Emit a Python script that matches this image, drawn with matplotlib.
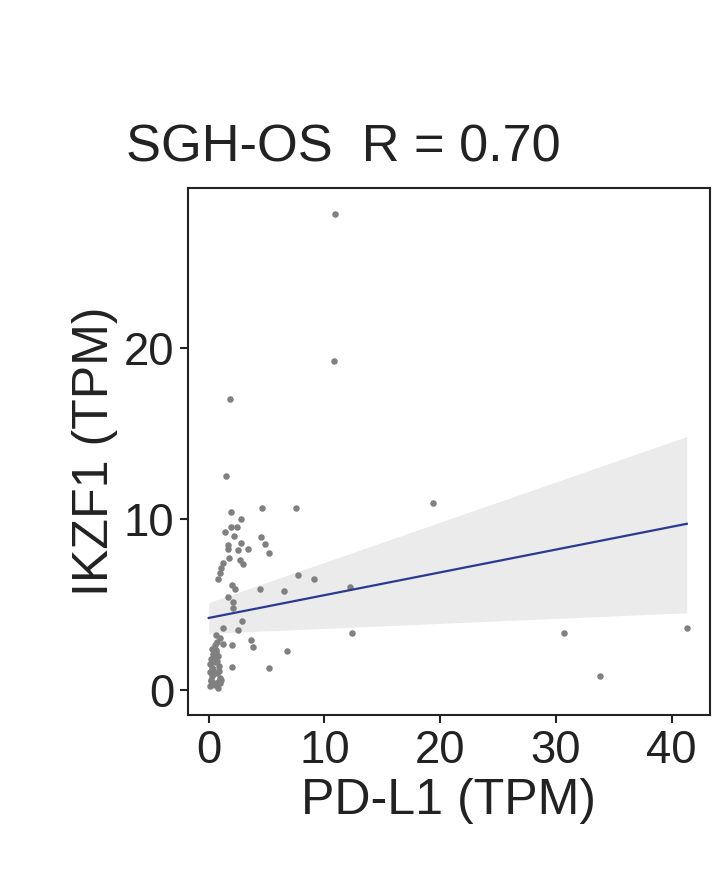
import numpy as np
import matplotlib
matplotlib.use("Agg")
import matplotlib.pyplot as plt

FONT = 'Liberation Sans'

pdl1 = [1.8,1.5,1.9,4.6,7.5,2.8,1.9,2.4,1.4,2.2,4.5,4.9,5.2,2.8,1.7,2.5,3.4,1.7,1.75,2.7,3.0,1.2,1.1,0.95,0.78,
        7.7,9.1,12.2,2.0,2.25,4.4,6.5,1.7,2.1,2.1,2.9,2.5,1.2,12.4,0.6,0.95,3.65,3.8,2.0,1.2,6.8,0.65,5.2,2.0,
        10.9,10.8,19.4,30.7,33.8,41.3,
        0.1,0.2,0.3,0.4,0.5,0.6,0.7,0.8,0.9,1.0,0.2,0.3,0.5,0.7,0.9,1.1,0.1,0.4,0.6,0.8,0.3,0.5,0.2,0.7,1.0,0.4,0.6,0.15,0.85,0.35]
ikzf1 = [17.0,12.5,10.4,10.6,10.6,10.0,9.5,9.5,9.2,9.0,8.9,8.5,8.0,8.55,8.45,8.15,8.2,8.2,7.7,7.6,7.35,7.4,7.1,6.8,6.5,
         6.7,6.5,6.0,6.1,5.9,5.9,5.75,5.4,5.15,4.8,4.0,3.5,3.6,3.3,3.2,3.0,2.9,2.5,2.6,2.7,2.25,2.3,1.3,1.35,
         27.8,19.2,10.9,3.3,0.8,3.6,
         0.2,0.5,0.8,1.2,1.6,0.4,1.0,2.0,1.4,0.7,1.8,2.4,0.3,2.8,1.1,0.6,1.5,0.9,2.2,0.1,1.3,2.6,0.6,1.7,0.4,1.9,0.35,1.05,0.5,2.1]

# fitted regression line and 95% band
fit_x = [0.0, 41.3]
fit_y = [4.2, 9.7]
band_lo = [3.3, 4.5]
band_hi = [5.1, 14.8]

k = 0.82
fig = plt.figure(figsize=(7.2, 8.76), dpi=100)
ax = fig.add_axes([0.261, 0.184, 0.725, 0.601])
ax.fill_between(fit_x, band_lo, band_hi, color='#ebebeb', lw=0, zorder=1)
ax.scatter(pdl1, ikzf1, s=22, color='#808080', lw=0, zorder=2)
ax.plot(fit_x, fit_y, color='#2b3990', lw=1.6, zorder=3)
ax.set_xlim(-1.8, 43.3)
ax.set_ylim(-1.46, 29.3)
ax.set_xticks([0, 10, 20, 30, 40])
ax.set_yticks([0, 10, 20])
ax.tick_params(labelsize=40*k, length=6, width=1.5, colors='#222222', labelcolor='#222222', pad=4)
for tl in ax.get_xticklabels() + ax.get_yticklabels():
    tl.set_family(FONT)
for s in ax.spines.values():
    s.set_linewidth(1.5)
    s.set_color('#222222')
ax.set_xlabel('PD-L1 (TPM)', fontsize=44*k, family=FONT, color='#222222', labelpad=4)
ax.set_ylabel('IKZF1 (TPM)', fontsize=44*k, family=FONT, color='#222222', labelpad=4)
fig.text(0.477, 0.785 + 0.018, 'SGH-OS  R = 0.70', fontsize=46*k, family=FONT, color='#222222',
         ha='center', va='bottom')
fig.savefig('out.png', dpi=100)
